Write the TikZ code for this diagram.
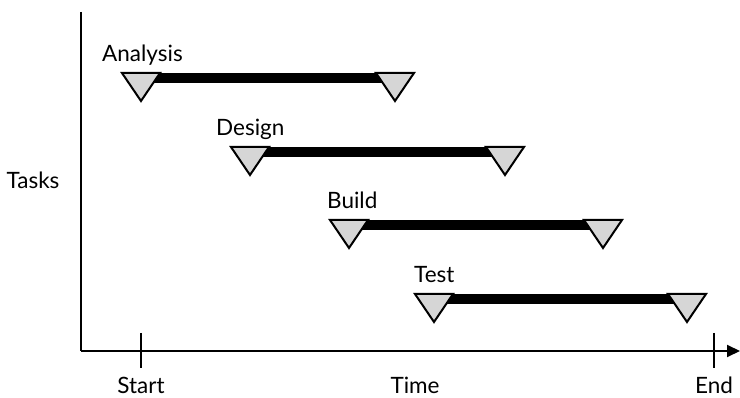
\documentclass[tikz,border=0pt]{standalone}
\usepackage{fontspec}
\setmainfont{Lato}
\usetikzlibrary{arrows.meta}
\definecolor{markgray}{HTML}{D6D6D6}
\tikzset{
  axisline/.style={line width=2pt, black},
  tickline/.style={line width=1.6pt, black},
  taskbar/.style={fill=black, draw=none},
  milestone/.style={fill=markgray, draw=black, line width=2pt, line join=miter},
  lbl/.style={inner sep=0pt, font=\fontsize{22.5}{26}\selectfont},
}
\begin{document}
\begin{tikzpicture}[x=1pt, y=-1pt]
  \useasboundingbox (0,0) rectangle (740,398);

  % axes
  \coordinate (origin) at (81,351);
  \coordinate (ytop) at (81,12);
  \coordinate (xend) at (740,351);
  \draw[axisline] (ytop) -- (origin);
  \draw[axisline, -{Triangle[length=13pt,width=12pt]}] (origin) -- (xend);

  % ticks on the time axis
  \coordinate (st) at (141,333);
  \coordinate (sb) at (141,368);
  \coordinate (et) at (714,333);
  \coordinate (eb) at (714,368);
  \draw[tickline] (st) -- (sb);
  \draw[tickline] (et) -- (eb);

  % axis labels
  \node[lbl, anchor=base] (start) at (141,394) {Start};
  \node[lbl, anchor=base] (time) at (415,394) {Time};
  \node[lbl, anchor=base] (end) at (714,394) {End};
  \node[lbl, anchor=base] (tasks) at (33,189) {Tasks};

  % task bars: name / start apex x / end apex x / top y / label x
  \foreach \nm/\lx/\rx/\ty/\tx in {Analysis/141/395/73/102,
                                    Design/250/505/147/216,
                                    Build/349/603/220/327,
                                    Test/434/687/294/414}{
    \fill[taskbar] (\lx,\ty) rectangle (\rx,\ty+10);
    \draw[milestone] (\lx-19,\ty) -- (\lx+19,\ty) -- (\lx,\ty+28) -- cycle;
    \draw[milestone] (\rx-19,\ty) -- (\rx+19,\ty) -- (\rx,\ty+28) -- cycle;
    \node[lbl, anchor=base west] (lab-\nm) at (\tx,\ty-11) {\nm};
  }
\end{tikzpicture}
\end{document}
